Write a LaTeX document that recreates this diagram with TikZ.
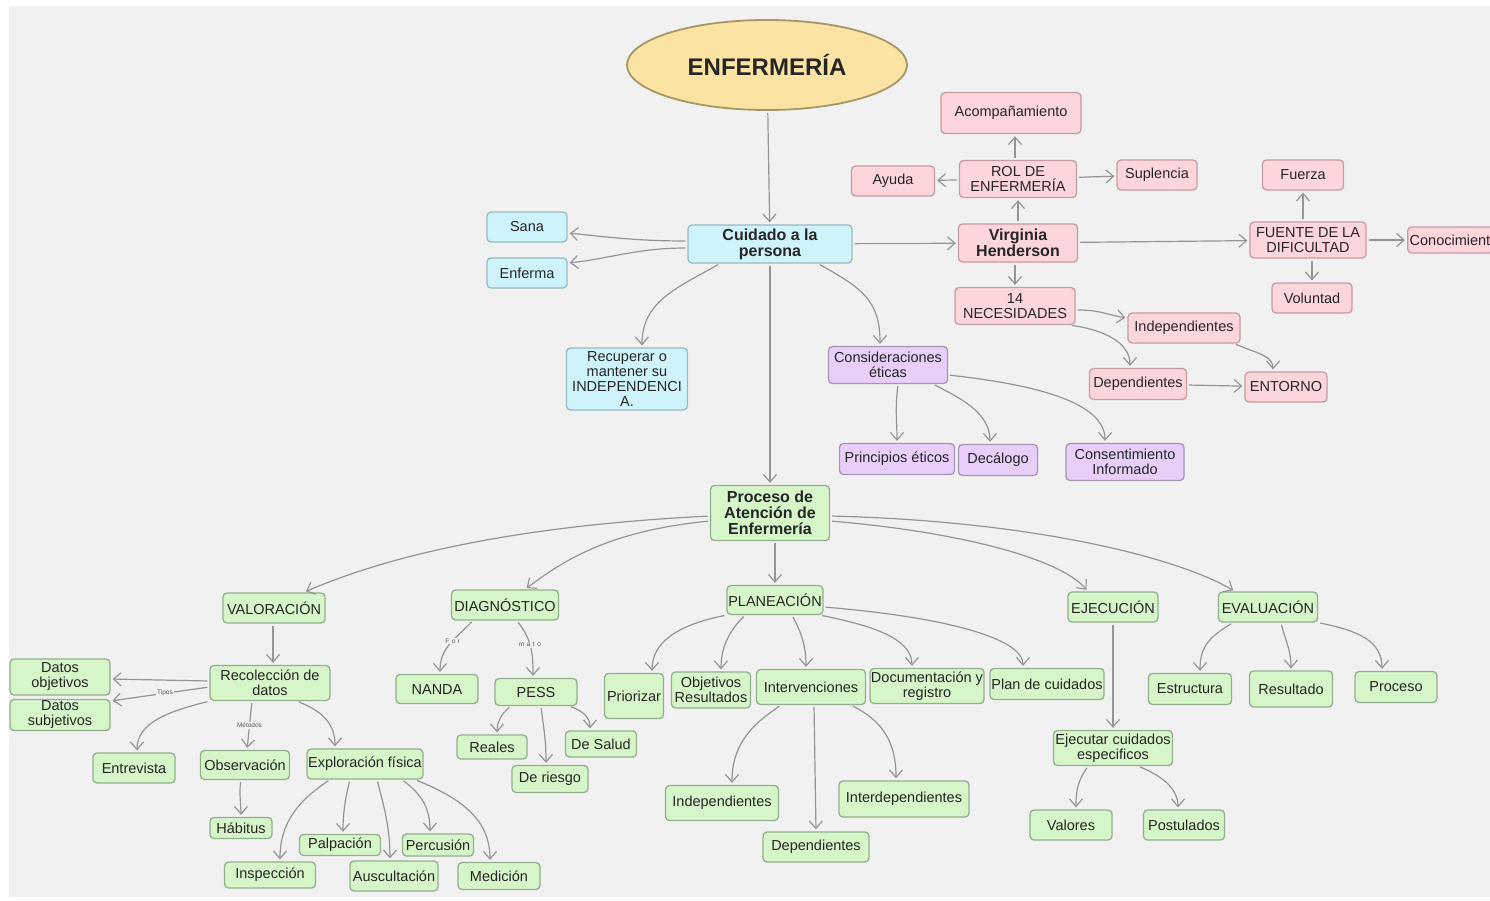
\documentclass[tikz,border=0pt]{standalone}
\usepackage{fontspec}
\setmainfont{Liberation Sans}
\usetikzlibrary{shapes.geometric,arrows.meta}
\definecolor{bg}{HTML}{F1F1F1}
\definecolor{txt}{HTML}{262626}
\definecolor{arrc}{HTML}{959595}
\definecolor{gfill}{HTML}{D6F5C9}
\definecolor{gdraw}{HTML}{93B08D}
\definecolor{pfill}{HTML}{FCD6DB}
\definecolor{pdraw}{HTML}{C49DA3}
\definecolor{cfill}{HTML}{CFF3FB}
\definecolor{cdraw}{HTML}{98BAC2}
\definecolor{vfill}{HTML}{E8CFFA}
\definecolor{vdraw}{HTML}{A596B5}
\definecolor{yfill}{HTML}{FBE3A3}
\definecolor{ydraw}{HTML}{A69866}
\tikzset{
  box/.style={rectangle, rounded corners=4pt, line width=1.3pt, align=center,
    inner xsep=1pt, inner ysep=1.5pt, text=txt,
    font=\fontsize{14.5}{15}\selectfont},
  gb/.style={box, fill=gfill, draw=gdraw},
  pb/.style={box, fill=pfill, draw=pdraw},
  cb/.style={box, fill=cfill, draw=cdraw},
  vb/.style={box, fill=vfill, draw=vdraw},
  bf/.style={font=\bfseries\fontsize{16}{16}\selectfont},
  sz/.style 2 args={minimum width=#1, minimum height=#2},
  arr/.style={draw=arrc, line width=1.2pt, -{Straight Barb[length=7.5pt,width=13pt]},
    shorten >=2pt, shorten <=2pt},
  lbl/.style={fill=bg, inner sep=1pt, text=black!65, font=\fontsize{6.5}{7}\selectfont}
}
\begin{document}
\begin{tikzpicture}[x=1pt,y=-1pt]
\useasboundingbox (0,0) rectangle (1490,900);
\fill[white] (0,0) rectangle (1490,900);
\fill[bg] (9,6) rectangle (1490,897);

% top
\node[ellipse, fill=yfill, draw=ydraw, line width=1.8pt, minimum width=280, minimum height=90,
  text=txt, font=\bfseries\fontsize{24}{24}\selectfont] (enf) at (767,65) {ENFERMERÍA};

% cyan
\node[cb,bf,sz={164}{38}] (cuid) at (770,244) {Cuidado a la\\persona};
\node[cb,sz={80}{30}] (sana) at (527,227) {Sana};
\node[cb,sz={80}{30}] (enf2) at (527,273) {Enferma};
\node[cb,sz={121}{62}] (rec) at (627,379) {Recuperar o\\mantener su\\INDEPENDENCI\\A.};

% violet
\node[vb,sz={119}{37}] (cons) at (888,365) {Consideraciones\\éticas};
\node[vb,sz={115}{31}] (princ) at (897,459) {Principios éticos};
\node[vb,sz={79}{31}] (dec) at (998,460) {Decálogo};
\node[vb,sz={118}{37}] (consent) at (1125,462) {Consentimiento\\Informado};

% pink
\node[pb,bf,sz={119}{38}] (vh) at (1018,243) {Virginia\\Henderson};
\node[pb,sz={117}{37}] (rol) at (1018,179) {ROL DE\\ENFERMERÍA};
\node[pb,sz={140}{41}] (acomp) at (1011,113) {Acompañamiento};
\node[pb,sz={83}{30}] (ayuda) at (893,181) {Ayuda};
\node[pb,sz={80}{30}] (supl) at (1157,175) {Suplencia};
\node[pb,sz={116}{36}] (fuente) at (1308,240) {FUENTE DE LA\\DIFICULTAD};
\node[pb,sz={81}{30}] (fuerza) at (1303,175) {Fuerza};
\node[pb,sz={80}{30}] (vol) at (1312,298) {Voluntad};
\node[pb,minimum height=26,inner xsep=2pt,anchor=west] (conoc) at (1407,240) {Conocimiento};
\node[pb,sz={120}{37}] (nec) at (1015,306) {14\\NECESIDADES};
\node[pb,sz={112}{30}] (indepP) at (1184,328) {Independientes};
\node[pb,sz={97}{31}] (depP) at (1138,384) {Dependientes};
\node[pb,sz={82}{30}] (ent) at (1286,387) {ENTORNO};

% green
\node[gb,bf,sz={119}{55}] (pae) at (770,513) {Proceso de\\Atención de\\Enfermería};
\node[gb,sz={102}{30}] (val) at (274,608) {VALORACIÓN};
\node[gb,sz={107}{30}] (diag) at (505,605) {DIAGNÓSTICO};
\node[gb,sz={96}{29}] (plan) at (775,600) {PLANEACIÓN};
\node[gb,sz={90}{30}] (ejec) at (1113,607) {EJECUCIÓN};
\node[gb,sz={99}{30}] (eval) at (1268,607) {EVALUACIÓN};
\node[gb,sz={120}{35}] (recol) at (270,683) {Recolección de\\datos};
\node[gb,sz={100}{36}] (dobj) at (60,677) {Datos\\objetivos};
\node[gb,sz={100}{31}] (dsubj) at (60,715) {Datos\\subjetivos};
\node[gb,sz={82}{30}] (entrev) at (134,768) {Entrevista};
\node[gb,sz={89}{29}] (obs) at (245,765) {Observación};
\node[gb,sz={116}{30}] (expl) at (365,764) {Exploración física};
\node[gb,sz={62}{21}] (hab) at (241,828) {Hábitus};
\node[gb,sz={81}{21}] (palp) at (340,845) {Palpación};
\node[gb,sz={71}{22}] (perc) at (438,845) {Percusión};
\node[gb,sz={91}{26}] (insp) at (270,875) {Inspección};
\node[gb,sz={88}{30}] (ausc) at (394,876) {Auscultación};
\node[gb,sz={82}{27}] (med) at (499,876) {Medición};
\node[gb,sz={82}{29}] (nanda) at (437,689) {NANDA};
\node[gb,sz={82}{27}] (pess) at (536,692) {PESS};
\node[gb,sz={70}{24}] (reales) at (492,747) {Reales};
\node[gb,sz={71}{26}] (desalud) at (601,744) {De Salud};
\node[gb,sz={76}{27}] (deriesgo) at (550,779) {De riesgo};
\node[gb,sz={59}{45}] (prior) at (634,696) {Priorizar};
\node[gb,sz={79}{36}] (obj) at (711,690) {Objetivos\\Resultados};
\node[gb,sz={109}{35}] (interv) at (811,687) {Intervenciones};
\node[gb,sz={114}{35}] (doc) at (927,686) {Documentación y\\registro};
\node[gb,sz={114}{31}] (pcuid) at (1047,684) {Plan de cuidados};
\node[gb,sz={113}{35}] (indepG) at (722,803) {Independientes};
\node[gb,sz={106}{30}] (depG) at (816,847) {Dependientes};
\node[gb,sz={130}{36}] (interd) at (904,799) {Interdependientes};
\node[gb,sz={119}{35}] (ejcuid) at (1113,748) {Ejecutar cuidados\\especificos};
\node[gb,sz={82}{30}] (valores) at (1071,825) {Valores};
\node[gb,sz={81}{30}] (postul) at (1184,825) {Postulados};
\node[gb,sz={83}{31}] (estr) at (1190,689) {Estructura};
\node[gb,sz={83}{36}] (resul) at (1291,689) {Resultado};
\node[gb,sz={82}{31}] (proc) at (1396,687) {Proceso};

% ---------- connectors ----------
\draw[arr] (enf) -- (cuid);
\draw[arr] ([yshift=3pt]cuid.west) .. controls +(-50,0) and +(40,4) .. ([yshift=-6pt]sana.east);
\draw[arr] ([yshift=-4pt]cuid.west) .. controls +(-50,0) and +(40,-4) .. ([yshift=10pt]enf2.east);
\draw[arr] (cuid) -- (vh);
\draw[arr] ([xshift=-50pt]cuid.south) .. controls +(-45,25) and +(0,-45) .. ([xshift=15pt]rec.north);
\draw[arr] ([xshift=48pt]cuid.south) .. controls +(45,25) and +(0,-45) .. ([xshift=-8pt]cons.north);
\draw[arr] (cuid) -- (pae);

\draw[arr] ([xshift=10pt]cons.south) .. controls +(-3,25) and +(0,-20) .. (princ.north);
\draw[arr] ([xshift=45pt]cons.south) .. controls +(30,15) and +(0,-30) .. ([xshift=-8pt]dec.north);
\draw[arr] ([yshift=-10pt]cons.east) .. controls +(90,10) and +(0,-40) .. ([xshift=-20pt]consent.north);

\draw[arr] (vh) -- (rol);
\draw[arr] ([xshift=-3pt]rol.north) -- ([xshift=4pt]acomp.south);
\draw[arr] (rol) -- (ayuda);
\draw[arr] (rol) -- (supl);
\draw[arr] (vh) -- (fuente);
\draw[arr] ([xshift=-3pt]vh.south) -- (nec.north);
\draw[arr] ([xshift=-5pt]fuente.north) -- (fuerza.south);
\draw[arr] ([xshift=4pt]fuente.south) -- (vol.north);
\draw[arr] (fuente.east) -- (conoc.west);
\draw[arr] ([yshift=-4pt]nec.east) .. controls +(25,0) and +(-20,-3) .. ([yshift=10pt]indepP.west);
\draw[arr] ([xshift=55pt]nec.south) .. controls +(35,5) and +(0,-25) .. ([xshift=-8pt]depP.north);
\draw[arr] ([xshift=50pt]indepP.south) .. controls +(25,10) and +(0,-15) .. ([xshift=-13pt]ent.north);
\draw[arr] (depP) -- (ent);

\draw[arr] ([yshift=-3pt]pae.west) .. controls +(-200,10) and +(80,-35) .. ([xshift=30pt]val.north);
\draw[arr] ([yshift=-8pt]pae.west) .. controls +(-100,10) and +(40,-30) .. ([xshift=20pt]diag.north);
\draw[arr] ([xshift=5pt]pae.south) -- (plan.north);
\draw[arr] ([yshift=-8pt]pae.east) .. controls +(120,10) and +(-30,-35) .. ([xshift=-25pt]ejec.north);
\draw[arr] ([yshift=-3pt]pae.east) .. controls +(200,5) and +(-60,-35) .. ([xshift=-33pt]eval.north);

\draw[arr] ([xshift=-1pt]val.south) -- ([xshift=3pt]recol.north);
\draw[arr] ([yshift=2pt]recol.west) -- ([yshift=-2pt]dobj.east);
\draw[arr] ([yshift=-4pt]recol.west) -- ([yshift=14pt]dsubj.east) node[lbl,pos=0.45] {Tipos};
\draw[arr] (recol.south west) .. controls +(-40,10) and +(0,-30) .. ([xshift=3pt]entrev.north);
\draw[arr] ([xshift=-18pt]recol.south) -- ([xshift=2pt]obs.north) node[lbl,pos=0.5] {Métodos};
\draw[arr] ([xshift=27pt]recol.south) .. controls +(25,10) and +(0,-25) .. ([xshift=-30pt]expl.north);
\draw[arr] ([xshift=-4pt]obs.south) .. controls +(-2,12) and +(0,-10) .. (hab.north);
\draw[arr] ([xshift=-35pt]expl.south) .. controls +(-30,20) and +(0,-40) .. ([xshift=10pt]insp.north);
\draw[arr] ([xshift=-15pt]expl.south) .. controls +(-5,20) and +(0,-20) .. ([xshift=3pt]palp.north);
\draw[arr] ([xshift=12pt]expl.south) .. controls +(8,30) and +(0,-30) .. ([xshift=-4pt]ausc.north);
\draw[arr] ([xshift=37pt]expl.south) .. controls +(20,15) and +(0,-25) .. ([xshift=-8pt]perc.north);
\draw[arr] ([xshift=50pt]expl.south) .. controls +(50,20) and +(0,-40) .. ([xshift=-9pt]med.north);

\draw[arr] ([xshift=-32pt]diag.south) .. controls +(-20,20) and +(0,-25) .. ([xshift=3pt]nanda.north)
  node[lbl,pos=0.4] {F\hspace{2.5pt}o\hspace{2.5pt}r};
\draw[arr] ([xshift=12pt]diag.south) .. controls +(15,20) and +(0,-25) .. ([xshift=-3pt]pess.north)
  node[lbl,pos=0.45] {m\hspace{2.5pt}a\hspace{2.5pt}t\hspace{2.5pt}o};
\draw[arr] ([xshift=-25pt]pess.south) .. controls +(-10,8) and +(0,-12) .. ([xshift=5pt]reales.north);
\draw[arr] ([xshift=5pt]pess.south) .. controls +(3,25) and +(0,-25) .. ([xshift=-4pt]deriesgo.north);
\draw[arr] ([xshift=33pt]pess.south) .. controls +(15,5) and +(0,-12) .. ([xshift=-11pt]desalud.north);

\draw[arr] (plan.south west) .. controls +(-50,10) and +(0,-30) .. ([xshift=18pt]prior.north);
\draw[arr] ([xshift=-30pt]plan.south) .. controls +(-15,15) and +(0,-25) .. ([xshift=10pt]obj.north);
\draw[arr] ([xshift=17pt]plan.south) .. controls +(8,15) and +(0,-25) .. ([xshift=-5pt]interv.north);
\draw[arr] ([xshift=45pt]plan.south) .. controls +(50,10) and +(0,-30) .. ([xshift=-15pt]doc.north);
\draw[arr] ([yshift=-7pt]plan.east) .. controls +(120,10) and +(0,-30) .. ([xshift=-24pt]pcuid.north);

\draw[arr] ([xshift=-30pt]interv.south) .. controls +(-30,20) and +(0,-40) .. ([xshift=10pt]indepG.north);
\draw[arr] ([xshift=3pt]interv.south) -- (depG.north);
\draw[arr] ([xshift=40pt]interv.south) .. controls +(30,15) and +(0,-40) .. ([xshift=-8pt]interd.north);

\draw[arr] (ejec) -- (ejcuid);
\draw[arr] ([xshift=-25pt]ejcuid.south) .. controls +(-10,15) and +(0,-20) .. ([xshift=5pt]valores.north);
\draw[arr] ([xshift=25pt]ejcuid.south) .. controls +(25,10) and +(0,-20) .. ([xshift=-6pt]postul.north);

\draw[arr] ([xshift=-35pt]eval.south) .. controls +(-25,15) and +(0,-25) .. ([xshift=10pt]estr.north);
\draw[arr] ([xshift=13pt]eval.south) .. controls +(5,20) and +(0,-20) .. (resul.north);
\draw[arr] (eval.south east) .. controls +(40,8) and +(0,-30) .. ([xshift=-14pt]proc.north);
\end{tikzpicture}
\end{document}
